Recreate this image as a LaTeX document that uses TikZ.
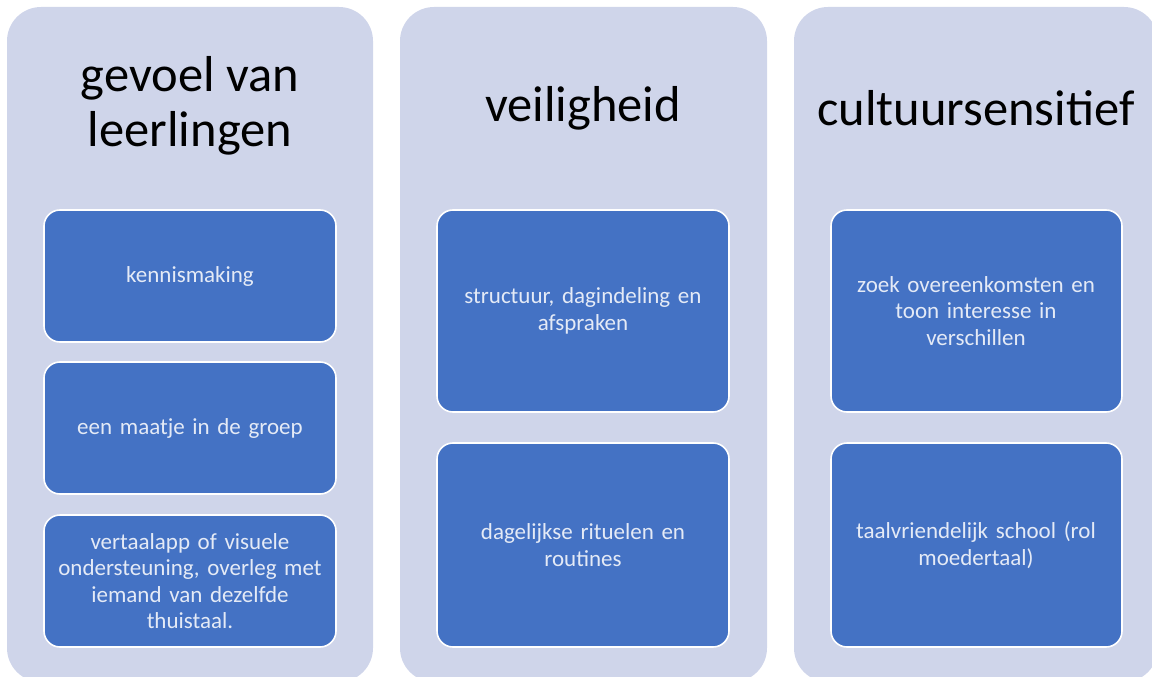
\documentclass[tikz,border=0pt]{standalone}
\usepackage{fontspec}
\setmainfont{Carlito}
\definecolor{colbg}{HTML}{CFD5EA}
\definecolor{boxblue}{HTML}{4472C4}
\definecolor{boxtext}{HTML}{E4EAF6}
\begin{document}
\begin{tikzpicture}[x=1pt,y=-1pt,
  column/.style={fill=colbg, rounded corners=34pt},
  title/.style={align=center, font=\fontsize{50.5}{55}\selectfont, text=black, inner sep=0pt},
  itembox/.style={fill=boxblue, draw=white, line width=1.6pt, rounded corners=16pt, align=center,
    text=boxtext, font=\fontsize{23}{26.5}\selectfont, inner sep=0pt, text width=285pt}]
\useasboundingbox (0,0) rectangle (1152,677);
\begin{scope}
\clip (0,0) rectangle (1152,677);
\fill[column] (7,7) rectangle (373,682);
\fill[column] (400,7) rectangle (767,682);
\fill[column] (794,7) rectangle (1158,682);
\end{scope}
% titles
\node[title] (t1) at (190,106) {gevoel van\\leerlingen};
\node[title] (t2) at (583,108) {veiligheid};
\node[title] (t3) at (976,108) {cultuursensitief};
% column 1
\draw[itembox] (44,210) rectangle (336,342);
\node[itembox,draw=none,fill=none] (a1) at (190,276) {kennismaking};
\draw[itembox] (44,362) rectangle (336,494);
\node[itembox,draw=none,fill=none] (a2) at (190,428) {een maatje in de groep};
\draw[itembox] (44,515) rectangle (336,647);
\node[itembox,draw=none,fill=none] (a3) at (190,581) {vertaalapp of visuele\\ondersteuning, overleg met\\iemand van dezelfde\\thuistaal.};
% column 2
\draw[itembox] (437,210) rectangle (729,412);
\node[itembox,draw=none,fill=none] (b1) at (583,311) {structuur, dagindeling en\\afspraken};
\draw[itembox] (437,443) rectangle (729,647);
\node[itembox,draw=none,fill=none] (b2) at (583,545) {dagelijkse rituelen en\\routines};
% column 3
\draw[itembox] (831,210) rectangle (1122,412);
\node[itembox,draw=none,fill=none] (c1) at (976,311) {zoek overeenkomsten en\\toon interesse in\\verschillen};
\draw[itembox] (831,443) rectangle (1122,647);
\node[itembox,draw=none,fill=none] (c2) at (976,545) {taalvriendelijk school (rol\\moedertaal)};
\end{tikzpicture}
\end{document}
